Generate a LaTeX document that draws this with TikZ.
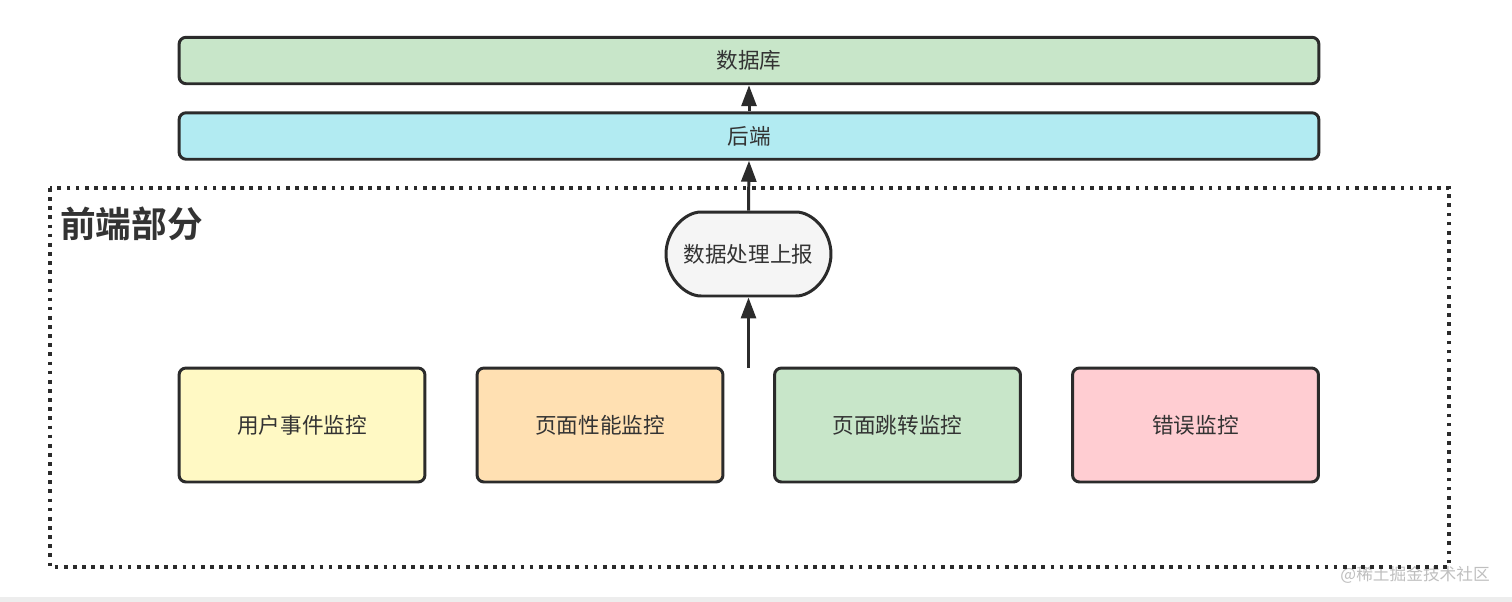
\documentclass[tikz,border=0pt]{standalone}
\usepackage{fontspec}
\setmainfont{Noto Sans CJK SC}
\newfontfamily\cjkbold{Noto Sans CJK SC Bold}
\usetikzlibrary{arrows.meta,shapes.misc}
\definecolor{linec}{HTML}{2B2B2B}
\definecolor{dbfill}{HTML}{C8E6C9}
\definecolor{befill}{HTML}{B2EBF2}
\definecolor{procfill}{HTML}{F5F5F5}
\definecolor{yfill}{HTML}{FFF9C4}
\definecolor{ofill}{HTML}{FFE0B2}
\definecolor{gfill}{HTML}{C8E6C9}
\definecolor{pfill}{HTML}{FFCDD2}
\definecolor{textc}{HTML}{333333}
\tikzset{
  box/.style={draw=linec, line width=1.7pt, rounded corners=0.14cm, text=textc, font=\fontsize{12.3}{14}\selectfont, inner sep=0pt},
  widebox/.style={box, minimum width=22.8cm, minimum height=0.93cm},
  monbox/.style={box, minimum width=4.92cm, minimum height=2.28cm},
  link/.style={draw=linec, line width=1.7pt, -{Triangle[length=0.42cm,width=0.3cm]}},
}
\begin{document}
\begin{tikzpicture}[x=0.02cm,y=-0.02cm]
\useasboundingbox (0,0) rectangle (1512,602);
\fill[white] (0,0) rectangle (1512,602);
\fill[black!7] (0,597) rectangle (1512,602);
\node[font=\fontsize{9.5}{11}\selectfont, text=black!25, anchor=east] (wm) at (1496,575) {@稀土掘金技术社区};
\draw[linec, line width=2.1pt, dash pattern=on 2.1pt off 3.1pt] (50,188) rectangle (1449,567);
\node[anchor=west, font=\cjkbold\fontsize{20.3}{22}\selectfont, text=textc] (fe) at (54,224) {前端部分};
\node[widebox, fill=dbfill] (db) at (749,60.5) {数据库};
\node[widebox, fill=befill] (be) at (749,136) {后端};
\node[box, fill=procfill, rounded rectangle, minimum width=3.3cm, minimum height=1.68cm] (proc) at (748.5,254) {数据处理上报};
\node[monbox, fill=yfill] (m1) at (302,425) {用户事件监控};
\node[monbox, fill=ofill] (m2) at (600,425) {页面性能监控};
\node[monbox, fill=gfill] (m3) at (897.5,425) {页面跳转监控};
\node[monbox, fill=pfill] (m4) at (1195.5,425) {错误监控};
\coordinate (src) at (748.5,368);
\draw[link] (src) -- (proc.south);
\draw[link] (proc.north) -- (be.south);
\draw[link] (be.north) -- (db.south);
\end{tikzpicture}
\end{document}
